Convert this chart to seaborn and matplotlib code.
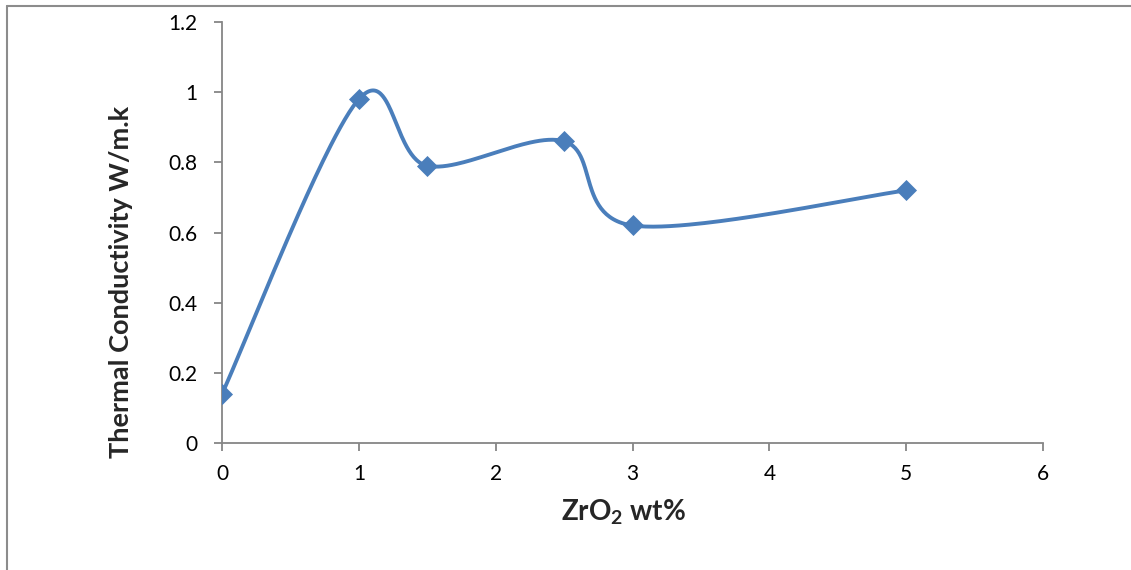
import numpy as np
import pandas as pd
import matplotlib.pyplot as plt
import seaborn as sns
from matplotlib.lines import Line2D

# data
zro2_wt = [0, 1, 1.5, 2.5, 3, 5]
conductivity = [0.14, 0.98, 0.79, 0.86, 0.62, 0.72]


def smooth_curve(x, y, n=60):
    # Excel-style smoothed line: cubic Bezier segments with Catmull-Rom control points
    pts = np.column_stack([x, y]).astype(float)
    ext = np.vstack([pts[0], pts, pts[-1]])
    out = []
    t = np.linspace(0, 1, n)[:, None]
    for i in range(len(pts) - 1):
        p0, p1, p2, p3 = ext[i], ext[i + 1], ext[i + 2], ext[i + 3]
        c1 = p1 + (p2 - p0) / 6
        c2 = p2 - (p3 - p1) / 6
        seg = ((1 - t) ** 3) * p1 + 3 * ((1 - t) ** 2) * t * c1 + 3 * (1 - t) * t ** 2 * c2 + t ** 3 * p2
        out.append(seg if i == 0 else seg[1:])
    out = np.vstack(out)
    return out[:, 0], out[:, 1]


sx, sy = smooth_curve(zro2_wt, conductivity)
curve = pd.DataFrame({'x': sx, 'y': sy})
points = pd.DataFrame({'x': zro2_wt, 'y': conductivity})

sns.set_style('white')
plt.rcParams['font.family'] = ['Lato', 'DejaVu Sans']
plt.rcParams['mathtext.fontset'] = 'custom'
plt.rcParams['mathtext.rm'] = 'Lato'
plt.rcParams['mathtext.bf'] = 'Lato:bold'

fig = plt.figure(figsize=(11.31, 5.70), dpi=100)
ax = fig.add_axes([0.1963, 0.2228, 0.7259, 0.7386])

blue = '#4A7EBB'
sns.lineplot(data=curve, x='x', y='y', sort=False, estimator=None, color=blue, linewidth=2.8, ax=ax)
sns.scatterplot(data=points, x='x', y='y', marker='D', s=115, color=blue, edgecolor=blue, linewidth=0, ax=ax, zorder=3)

ax.set_xlim(0, 6)
ax.set_ylim(0, 1.2)
ax.set_xticks(range(0, 7))
ax.set_yticks([0, 0.2, 0.4, 0.6, 0.8, 1.0, 1.2])
ax.set_yticklabels(['0', '0.2', '0.4', '0.6', '0.8', '1', '1.2'])

for s in ['top', 'right']:
    ax.spines[s].set_visible(False)
for s in ['left', 'bottom']:
    ax.spines[s].set_color('#868686')
    ax.spines[s].set_linewidth(1.3)

ax.tick_params(axis='both', which='major', direction='out', length=6, width=1.3, color='#868686',
               labelsize=15, labelcolor='black')
ax.tick_params(axis='y', pad=12, left=True)
ax.tick_params(axis='x', pad=9, bottom=True)

ax.set_xlabel('ZrO$_\\mathbf{2}$ wt%', fontsize=20, fontweight='bold')
ax.set_ylabel('Thermal Conductivity W/m.k', fontsize=19.5, fontweight='bold')
ax.xaxis.set_label_coords(0.4896, -0.128)
ax.yaxis.set_label_coords(-0.109, 0.382)

# chart border (top and left edges visible in the crop)
fig.add_artist(Line2D([7 / 1131, 1], [1 - 6 / 570, 1 - 6 / 570], color='#8c8c8c', linewidth=1.5))
fig.add_artist(Line2D([7 / 1131, 7 / 1131], [0, 1 - 6 / 570], color='#8c8c8c', linewidth=1.5))

fig.savefig('out.png', dpi=100)
